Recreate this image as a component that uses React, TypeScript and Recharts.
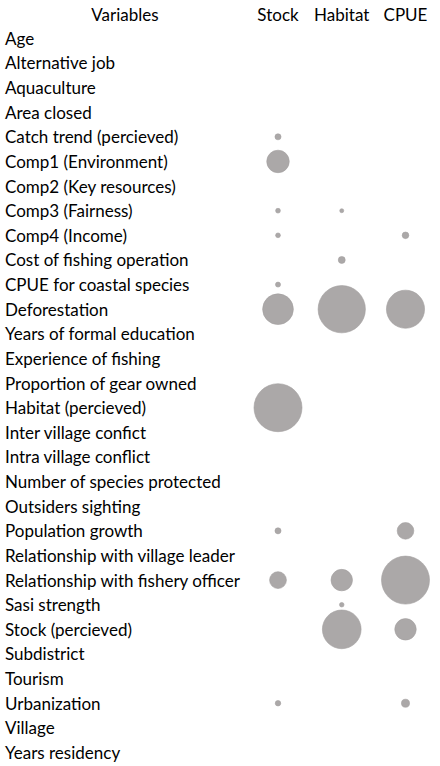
import React from 'react';
import { ScatterChart, Scatter, XAxis, YAxis, ZAxis, Customized } from 'recharts';

const variables = [
  'Age',
  'Alternative job',
  'Aquaculture',
  'Area closed',
  'Catch trend (percieved)',
  'Comp1 (Environment)',
  'Comp2 (Key resources)',
  'Comp3 (Fairness)',
  'Comp4 (Income)',
  'Cost of fishing operation',
  'CPUE for coastal species',
  'Deforestation',
  'Years of formal education',
  'Experience of fishing',
  'Proportion of gear owned',
  'Habitat (percieved)',
  'Inter village confict',
  'Intra village conflict',
  'Number of species protected',
  'Outsiders sighting',
  'Population growth',
  'Relationship with village leader',
  'Relationship with fishery officer',
  'Sasi strength',
  'Stock (percieved)',
  'Subdistrict',
  'Tourism',
  'Urbanization',
  'Village',
  'Years residency',
];

const measures = ['Stock', 'Habitat', 'CPUE'];

const stockValues = [0, 0, 0, 0, 1.6, 22, 0, 1.0, 1.0, 0, 1.1, 41, 0, 0, 0, 100, 0, 0, 0, 0, 1.6, 0, 12.3, 0, 0, 0, 0, 1.3, 0, 0];
const habitatValues = [0, 0, 0, 0, 0, 0, 0, 0.7, 0, 2.1, 0, 97, 0, 0, 0, 0, 0, 0, 0, 0, 0, 0, 20, 0.9, 65, 0, 0, 0, 0, 0];
const cpueValues = [0, 0, 0, 0, 0, 0, 0, 0, 1.9, 0, 0, 63, 0, 0, 0, 0, 0, 0, 0, 0, 12, 0, 100, 0, 20, 0, 0, 2.8, 0, 0];

const seriesValues = [stockValues, habitatValues, cpueValues];

const points = seriesValues.flatMap((vals, col) =>
  vals
    .map((v, row) => ({ x: col, y: row, z: v, variable: variables[row], measure: measures[col] }))
    .filter((p) => p.z > 0)
);

const rowTicks = variables.map((_, i) => i);
const colTicks = measures.map((_, i) => i);

const FONT = 'Lato, "Open Sans", sans-serif';

const YTick = (props: any) => {
  const { y, payload } = props;
  return (
    <text x={5} y={y} dominantBaseline="central" textAnchor="start" fill="#000" fontSize={17} fontFamily={FONT}>
      {variables[payload.value]}
    </text>
  );
};

const XTick = (props: any) => {
  const { x, payload } = props;
  return (
    <text x={x} y={14} dominantBaseline="central" textAnchor="middle" fill="#000" fontSize={17} fontFamily={FONT}>
      {measures[payload.value]}
    </text>
  );
};

const Header = () => (
  <text x={125} y={14} dominantBaseline="central" textAnchor="middle" fill="#000" fontSize={17} fontFamily={FONT}>
    Variables
  </text>
);

export default function App() {
  return (
    <div style={{ position: 'absolute', left: 0, top: 0, background: '#fff' }}>
      <ScatterChart width={440} height={766} margin={{ top: 0, right: 34.5, bottom: 1.2, left: 0 }}>
        <XAxis
          type="number"
          dataKey="x"
          orientation="top"
          domain={[0, 2]}
          ticks={colTicks}
          interval={0}
          height={26}
          axisLine={false}
          tickLine={false}
          tick={<XTick />}
        />
        <YAxis
          type="number"
          dataKey="y"
          domain={[-0.5, 29.5]}
          reversed
          ticks={rowTicks}
          interval={0}
          width={278}
          axisLine={false}
          tickLine={false}
          tick={<YTick />}
        />
        <ZAxis type="number" dataKey="z" domain={[0, 100]} range={[0, 1810]} />
        <Scatter data={points} fill="#aba8a8" stroke="#a2a0a0" strokeWidth={0.6} isAnimationActive={false} />
        <Customized component={Header} />
      </ScatterChart>
    </div>
  );
}
